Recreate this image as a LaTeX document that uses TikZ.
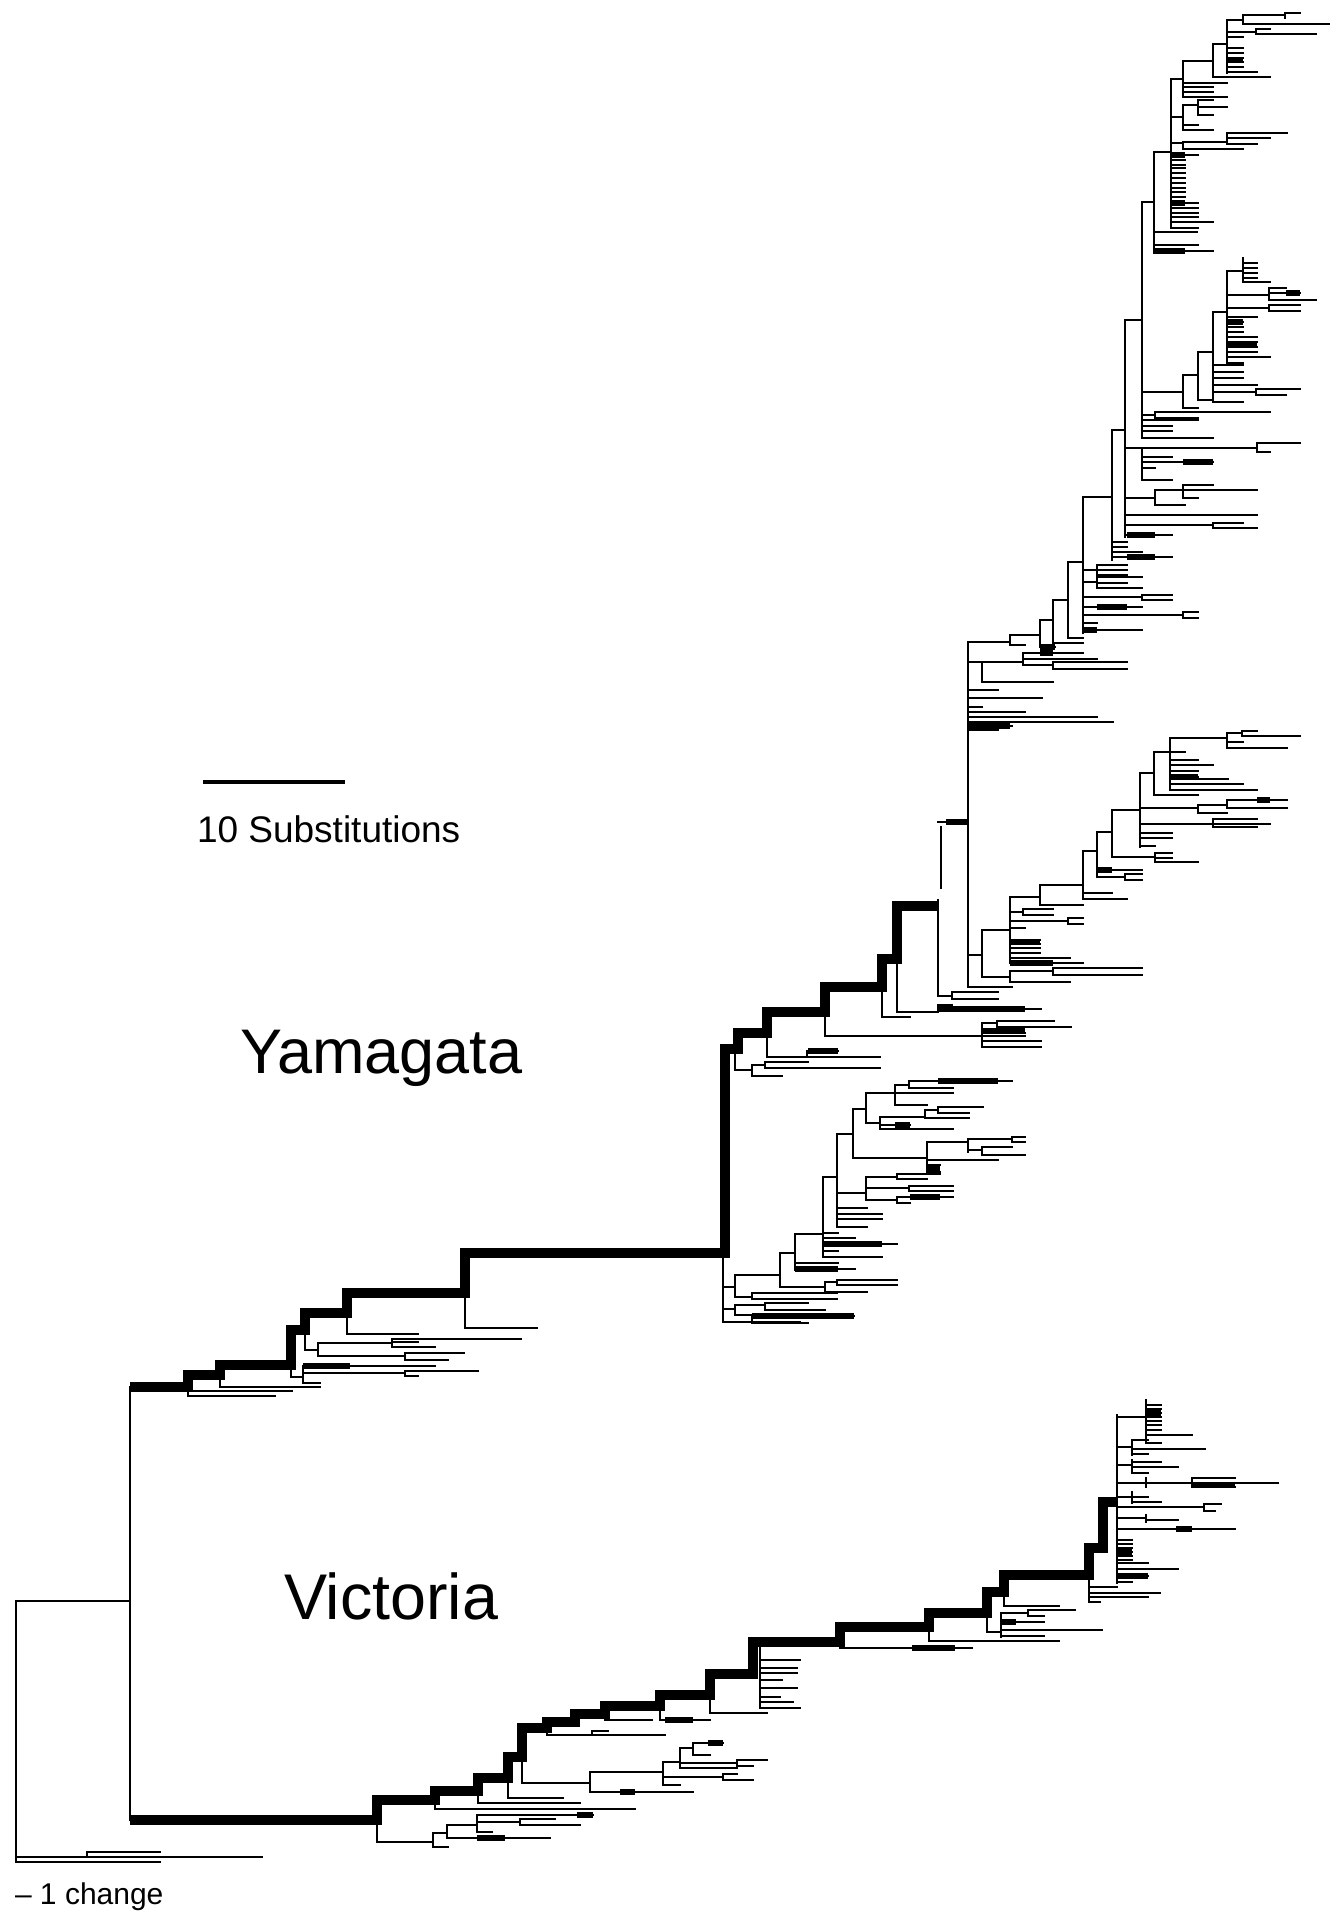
\documentclass[tikz,border=0pt]{standalone}
\usepackage{fontspec}
\setmainfont{Liberation Sans}
\begin{document}
\begin{tikzpicture}[x=0.5pt,y=-0.5pt,
  br/.style={line width=1.15pt,line cap=rect},
  thk/.style={line width=5pt,line join=miter},
  mid/.style={line width=2.6pt},
  lbl/.style={anchor=base west,inner sep=0pt,outer sep=0pt}]
\newcommand\fan[4]{\draw[br] (#1,#2) -- (#1,#3); \foreach \yy/\xx in {#4} {\draw[br] (#1,\yy) -- (\xx,\yy);}}
\useasboundingbox (0,0) rectangle (1342,1912);
% ---------------- root and outgroup
\fan{16}{1601}{1862}{1601/130,1857/262,1862/160}
\fan{87}{1852}{1857}{1852/160}
\draw[br] (130,1387) -- (130,1820);
% ---------------- Yamagata trunk
\draw[thk] (130,1387)--(188,1387)--(188,1375)--(220,1375)--(220,1365)--(291,1365)--(291,1330)--(305,1330)--(305,1313)--(347,1313)--(347,1293)--(465,1293)--(465,1253)--(725,1253)--(725,1049)--(738,1049)--(738,1033)--(767,1033)--(767,1012)--(825,1012)--(825,987)--(882,987)--(882,959)--(897,959)--(897,906)--(938,906);
% basal Yamagata branches
\fan{188}{1387}{1396}{1391/292,1396/275}
\fan{220}{1375}{1387}{1387/320}
\fan{291}{1365}{1377}{1377/303}
\fan{303}{1366}{1383}{1366/435,1373/405,1383/320}
\draw[mid] (303,1366)--(350,1366);
\fan{405}{1371}{1376}{1371/478,1376/418}
\fan{305}{1330}{1350}{1350/318}
\fan{318}{1343}{1356}{1343/392,1356/405}
\fan{392}{1339}{1347}{1339/521,1342/418,1347/435}
\fan{405}{1353}{1360}{1353/464,1360/448}
\fan{347}{1313}{1334}{1334/418}
\fan{465}{1293}{1328}{1328/537}
% lower Yamagata subclade
\fan{723}{1253}{1322}{1287/735,1309/735,1322/800}
\fan{735}{1275}{1297}{1275/780,1297/752}
\fan{752}{1293}{1299}{1293/837,1299/837}
\fan{780}{1253}{1287}{1253/795,1287/825}
\fan{825}{1282}{1292}{1282/837,1292/867}
\fan{837}{1280}{1285}{1280/897,1285/897}
\fan{795}{1234}{1270}{1234/823,1263/838,1269/855}
\draw[mid] (795,1269)--(838,1269);
\fan{823}{1177}{1257}{1177/837,1233/838,1238/855,1244/897,1251/838,1257/882}
\draw[mid] (823,1244)--(882,1244);
\fan{837}{1134}{1227}{1134/853,1193/866,1208/867,1214/882,1219/882,1227/867}
\fan{853}{1109}{1158}{1109/866,1158/927}
\fan{866}{1093}{1123}{1093/895,1123/880}
\fan{895}{1085}{1105}{1085/909,1093/953,1105/927}
\fan{909}{1081}{1088}{1081/1012,1088/953}
\draw[mid] (938,1081)--(998,1081);
\fan{880}{1117}{1129}{1117/925,1125/910,1129/953}
\draw[mid] (895,1125)--(910,1125);
\fan{925}{1110}{1118}{1110/938,1118/969}
\fan{938}{1107}{1113}{1107/983,1113/969}
\fan{927}{1142}{1172}{1142/968,1160/998,1165/940,1172/940}
\draw[mid] (927,1169)--(940,1169);
\fan{968}{1139}{1152}{1139/1012,1150/982}
\fan{1012}{1137}{1142}{1137/1025,1142/1025}
\fan{982}{1147}{1155}{1147/1012,1155/1025}
\fan{866}{1177}{1200}{1177/897,1188/909,1200/897}
\fan{897}{1174}{1179}{1174/940,1179/927}
\fan{909}{1186}{1191}{1186/953,1191/953}
\fan{897}{1197}{1203}{1197/953,1203/910}
\draw[mid] (910,1197)--(940,1197);
\fan{735}{1305}{1315}{1305/765,1315/752}
\fan{765}{1303}{1310}{1303/808,1310/825}
\fan{752}{1315}{1323}{1316/854,1323/808}
\draw[mid] (752,1316)--(854,1316);
% upper Yamagata side branches
\fan{735}{1049}{1070}{1070/752}
\fan{752}{1065}{1076}{1065/765,1076/782}
\fan{765}{1062}{1068}{1062/808,1068/880}
\fan{767}{1033}{1057}{1057/880}
\fan{807}{1051}{1057}{1051/838}
\draw[mid] (808,1051)--(838,1051);
\fan{825}{1012}{1036}{1036/982}
\fan{982}{1023}{1047}{1023/997,1030/1010,1033/1025,1036/1025,1041/1041,1047/1041}
\draw[mid] (982,1031)--(1025,1031);
\fan{997}{1021}{1027}{1021/1054,1027/1071}
\fan{882}{987}{1017}{1017/910}
\fan{897}{959}{1012}{1012/938}
\fan{938}{1005}{1012}{1005/952,1009/1041}
\draw[mid] (938,1009)--(1025,1009);
\fan{938}{900}{996}{996/952}
\fan{952}{992}{999}{992/998,999/998}
\draw[br] (941,827) -- (941,888);
\draw[br] (938,822) -- (968,822);
\draw[mid] (946,822) -- (968,822);
% ---------------- big upper clade
\fan{968}{642}{987}{642/1010,662/982,690/998,698/1042,707/982,712/1025,717/1097,722/1113,726/1012,730/998,955/982,987/1012}
\draw[mid] (968,726)--(1010,726);
\fan{982}{662}{682}{662/1023,682/1053}
\fan{1023}{653}{665}{653/1083,659/1097,665/1053}
\draw[mid] (1040,653)--(1053,653);
\fan{1053}{662}{669}{662/1127,669/1127}
% lower part of big clade
\fan{982}{930}{977}{930/1010,977/1010}
\fan{1010}{971}{982}{971/1053,982/1070}
\fan{1053}{968}{975}{968/1142,975/1142}
\fan{1010}{897}{963}{897/1040,912/1023,921/1068,928/1025,940/1040,944/1040,948/1040,953/1040,958/1070,963/1083}
\draw[mid] (1010,942)--(1040,942);
\draw[mid] (1010,963)--(1053,963);
\fan{1023}{909}{915}{909/1053,915/1053}
\fan{1068}{918}{924}{918/1083,924/1083}
\fan{1040}{885}{905}{885/1083,905/1083}
\fan{1083}{851}{899}{851/1097,893/1112,899/1127}
\fan{1097}{832}{877}{832/1112,870/1142,877/1125}
\draw[mid] (1097,870)--(1112,870);
\fan{1125}{874}{880}{874/1142,880/1142}
\fan{1112}{810}{857}{810/1140,857/1155}
\fan{1155}{853}{862}{853/1172,858/1172,862/1198}
\fan{1140}{773}{847}{773/1154,808/1198,824/1213,833/1172,838/1172,846/1155}
\fan{1154}{752}{795}{752/1170,795/1198}
\fan{1170}{738}{790}{738/1227,752/1185,760/1198,765/1213,771/1198,777/1198,779/1228,784/1243,790/1257}
\draw[mid] (1170,777)--(1198,777);
\fan{1227}{733}{748}{733/1242,742/1243,748/1287}
\fan{1242}{731}{736}{731/1257,736/1300}
\fan{1198}{805}{813}{805/1227,813/1227}
\fan{1227}{800}{808}{800/1287,808/1287}
\draw[mid] (1257,800)--(1270,800);
\fan{1213}{819}{827}{819/1257,824/1270,827/1257}
% spine of big clade
\fan{1010}{635}{645}{635/1040,645/1025}
\fan{1040}{620}{647}{620/1053,647/1055}
\draw[mid] (1040,647)--(1055,647);
\fan{1053}{600}{643}{600/1068,643/1083}
\fan{1068}{562}{638}{562/1083,638/1083}
\fan{1083}{497}{633}{497/1112,570/1097,582/1097,597/1142,607/1142,615/1183,623/1097,630/1142}
\draw[mid] (1083,630)--(1097,630);
\draw[mid] (1097,607)--(1127,607);
\fan{1097}{565}{575}{565/1127,570/1127,575/1127}
\fan{1097}{577}{588}{577/1142,583/1127,588/1142}
\fan{1142}{595}{600}{595/1172,600/1172}
\fan{1183}{612}{618}{612/1198,618/1198}
\fan{1112}{430}{560}{430/1125,542/1127,547/1127,552/1142,557/1172}
\draw[mid] (1127,557)--(1155,557);
\fan{1125}{320}{537}{320/1142,448/1142,498/1155,515/1257,525/1213,535/1172}
\draw[mid] (1127,535)--(1155,535);
\fan{1142}{448}{480}{448/1257,457/1172,462/1213,468/1155,480/1172}
\draw[mid] (1183,462)--(1213,462);
\fan{1257}{443}{452}{443/1300,452/1270}
\fan{1155}{490}{505}{490/1183,505/1185}
\fan{1183}{485}{498}{485/1213,490/1257,498/1198}
\fan{1213}{523}{528}{523/1243,528/1257}
\fan{1142}{202}{438}{202/1154,392/1183,415/1155,420/1198,426/1172,431/1172,438/1213}
\fan{1155}{412}{418}{412/1270,418/1198}
% top subclade
\fan{1154}{152}{253}{152/1171,232/1197,245/1198,251/1213}
\draw[mid] (1154,251)--(1185,251);
\fan{1171}{79}{228}{79/1183,117/1183,143/1183,155/1198,160/1185,165/1185,168/1185,173/1185,178/1185,183/1185,188/1185,192/1185,197/1185,203/1198,208/1198,213/1198,217/1198,222/1213,228/1198}
\draw[mid] (1171,155)--(1185,155);
\draw[mid] (1171,203)--(1185,203);
\fan{1183}{61}{97}{61/1213,83/1227,87/1213,92/1213,97/1227}
\fan{1213}{44}{77}{44/1227,77/1270}
\fan{1227}{20}{73}{20/1243,32/1256,37/1243,48/1243,53/1243,58/1243,62/1243,67/1243,72/1257}
\draw[mid] (1227,60)--(1243,60);
\fan{1243}{15}{24}{15/1285,24/1329}
\fan{1285}{13}{18}{13/1300}
\fan{1256}{29}{34}{29/1270,34/1316}
\fan{1183}{105}{130}{105/1198,125/1198,130/1213}
\fan{1198}{100}{115}{100/1213,107/1227,115/1213}
\fan{1183}{142}{149}{142/1227,149/1243}
\fan{1227}{133}{144}{133/1287,138/1270,144/1257}
% second upper subclade
\fan{1183}{375}{408}{375/1198,408/1198}
\fan{1198}{352}{400}{352/1213,400/1213}
\fan{1213}{312}{402}{312/1227,365/1243,372/1243,378/1243,385/1257,392/1256,402/1243}
\fan{1256}{389}{395}{389/1300,395/1286}
\fan{1227}{271}{363}{271/1243,295/1269,308/1269,317/1257,322/1243,327/1243,332/1243,337/1257,342/1257,347/1257,352/1257,357/1270,363/1243}
\draw[mid] (1227,322)--(1243,322);
\draw[mid] (1227,344)--(1257,344);
\fan{1243}{258}{282}{263/1257,268/1257,273/1257,278/1257,282/1270}
\fan{1269}{288}{300}{288/1286,293/1300,300/1316}
\draw[mid] (1286,293)--(1300,293);
\fan{1269}{305}{311}{305/1300,311/1300}
% ---------------- Victoria trunk
\draw[thk] (130,1820)--(377,1820)--(377,1800)--(435,1800)--(435,1791)--(478,1791)--(478,1778)--(508,1778)--(508,1757)--(522,1757)--(522,1728)--(547,1728)--(547,1722)--(575,1722)--(575,1714)--(605,1714)--(605,1706)--(660,1706)--(660,1695)--(710,1695)--(710,1674)--(753,1674)--(753,1642)--(840,1642)--(840,1627)--(929,1627)--(929,1613)--(987,1613)--(987,1592)--(1004,1592)--(1004,1575)--(1089,1575)--(1089,1548)--(1103,1548)--(1103,1502)--(1117,1502);
% Victoria side branches
\fan{377}{1820}{1842}{1842/433}
\fan{433}{1833}{1847}{1833/447,1847/448}
\fan{447}{1825}{1838}{1825/477,1838/550}
\draw[mid] (477,1838)--(505,1838);
\fan{477}{1815}{1832}{1815/593,1822/520,1832/492}
\draw[mid] (577,1815)--(593,1815);
\fan{520}{1819}{1825}{1819/555,1825/580}
\fan{435}{1800}{1809}{1809/635}
\fan{478}{1791}{1803}{1803/580}
\fan{508}{1778}{1798}{1798/563}
\fan{522}{1757}{1783}{1783/590}
\fan{590}{1772}{1792}{1772/663,1792/693}
\draw[mid] (620,1792)--(635,1792);
\fan{663}{1762}{1785}{1762/680,1777/723,1785/680}
\fan{723}{1774}{1780}{1774/737,1780/753}
\fan{680}{1748}{1768}{1748/693,1763/737,1768/737}
\fan{693}{1743}{1755}{1743/723,1755/710}
\draw[mid] (708,1743)--(723,1743);
\fan{737}{1760}{1766}{1760/767,1766/753}
\fan{547}{1728}{1735}{1735/665}
\fan{592}{1731}{1735}{1731/608}
\fan{605}{1714}{1720}{1720/652}
\fan{660}{1706}{1720}{1720/710}
\draw[mid] (665,1720)--(693,1720);
\fan{710}{1695}{1713}{1713/767}
\fan{760}{1647}{1708}{1660/800,1668/797,1673/797,1680/782,1688/797,1697/780,1702/793,1708/800}
\fan{840}{1642}{1648}{1648/972}
\draw[mid] (912,1648)--(955,1648);
\fan{929}{1627}{1641}{1641/1059}
\fan{987}{1613}{1632}{1632/1001}
\fan{1001}{1613}{1637}{1613/1028,1622/1044,1630/1102,1636/1044}
\draw[mid] (1001,1622)--(1016,1622);
\fan{1028}{1610}{1616}{1610/1075,1616/1044}
\fan{1004}{1592}{1606}{1606/1059}
\fan{1089}{1575}{1602}{1587/1117,1593/1160,1597/1148,1602/1100}
% Victoria crown
\fan{1117}{1415}{1583}{1417/1146,1447/1132,1465/1132,1483/1146,1497/1132,1507/1204,1518/1146,1529/1235,1540/1132,1544/1132,1548/1132,1552/1132,1556/1132,1560/1132,1563/1148,1569/1178,1576/1148,1582/1132}
\draw[mid] (1117,1552)--(1132,1552);
\draw[mid] (1117,1576)--(1148,1576);
\draw[mid] (1176,1529)--(1192,1529);
\fan{1146}{1400}{1443}{1405/1161,1409/1161,1413/1161,1417/1161,1421/1161,1425/1161,1430/1161,1435/1192,1443/1161}
\draw[mid] (1146,1413)--(1161,1413);
\fan{1132}{1440}{1455}{1440/1148,1449/1205,1454/1148}
\fan{1132}{1460}{1473}{1462/1161,1467/1178,1473/1148}
\fan{1146}{1478}{1487}{1483/1192}
\fan{1192}{1478}{1487}{1478/1235,1483/1278,1487/1235}
\draw[mid] (1192,1485)--(1235,1485);
\fan{1132}{1492}{1503}{1497/1148,1502/1161}
\fan{1204}{1504}{1511}{1504/1221,1511/1215}
\fan{1146}{1515}{1522}{1520/1178}
% ---------------- scale bar and labels
\draw[line width=2.4pt] (203,782) -- (345,782);
\node[lbl,font=\fontsize{18.5}{20}\selectfont] (sub) at (197,842) {10 Substitutions};
\node[lbl,font=\fontsize{31.5}{34}\selectfont] (yam) at (240,1073) {Yamagata};
\node[lbl,font=\fontsize{32.3}{34}\selectfont] (vic) at (284,1619) {Victoria};
\node[lbl,font=\fontsize{15}{17}\selectfont] (chg) at (15,1904) {\textendash\ 1 change};
\end{tikzpicture}
\end{document}
